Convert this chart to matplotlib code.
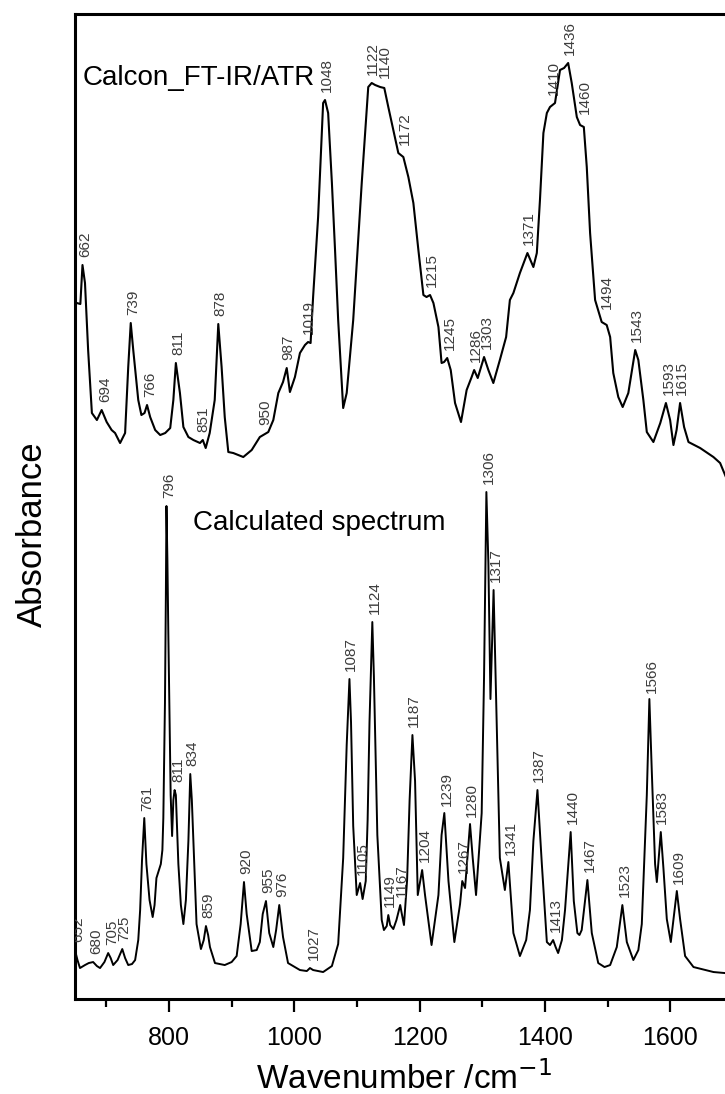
import numpy as np
import matplotlib
matplotlib.use("Agg")
import matplotlib.pyplot as plt
from matplotlib.ticker import MultipleLocator

plt.rcParams['font.family'] = ['Liberation Sans', 'DejaVu Sans']

# experimental FT-IR/ATR trace (wavenumber, absorbance a.u. incl. offset)
exp_wn = [650, 653, 658.6, 662, 666, 671, 677, 685, 692.6, 700.6, 708.5, 714, 722, 730,
          735, 739, 743, 751, 756, 761, 765, 770, 778, 786, 794, 802, 807, 811, 817.5,
          823, 831, 839, 849.5, 854, 858.6, 865, 873, 878.7, 884, 889, 894.7, 902.6,
          918.6, 932, 945, 958.5, 966.5, 974.5, 982, 987.9, 993, 1001, 1009, 1017, 1022,
          1026, 1030, 1038, 1046, 1049, 1054, 1060, 1065, 1070, 1078, 1083.6, 1094,
          1107.6, 1113, 1118, 1123.5, 1129, 1137, 1143.6, 1150, 1158, 1166, 1174, 1182,
          1190, 1198, 1206, 1211, 1216.6, 1222, 1230, 1235, 1239, 1244, 1249.6, 1256.5,
          1266, 1275, 1283, 1287, 1292.7, 1302.8, 1309.7, 1317.6, 1328, 1338, 1344,
          1349.6, 1360, 1372, 1381.5, 1387, 1392, 1397.5, 1403, 1408, 1416, 1424,
          1430.5, 1437, 1442.7, 1450.8, 1456, 1462, 1466.7, 1472, 1480, 1490.5, 1498.5,
          1504, 1509, 1517, 1524, 1533, 1544, 1549, 1557, 1562.5, 1573, 1584, 1593,
          1599.7, 1605, 1610, 1615.6, 1622, 1629, 1647.6, 1668.8, 1679.5, 1687.5, 1700]
exp_abs = [696, 696, 695, 734, 716, 649, 586, 579, 589, 577, 569, 566, 556, 566,
           632, 676, 649, 599, 584, 586, 594, 582, 569, 564, 566, 571, 599, 636, 606,
           572, 562, 559, 556, 559, 551, 566, 599, 675, 632, 582, 547, 546,
           542, 549, 562, 567, 579, 606, 617, 631, 607, 622, 646, 654, 657,
           656, 702, 782, 896, 899, 886, 816, 749, 679, 591, 606, 679,
           816, 866, 912, 916, 914, 912, 911, 892, 869, 846, 842, 822,
           796, 749, 704, 702, 704, 696, 672, 636, 637, 641, 629, 596,
           577, 609, 622, 629, 621, 642, 629, 616, 639, 662, 699,
           706, 726, 746, 732, 746, 799, 866, 886, 892, 896, 929,
           931, 936, 916, 882, 874, 872, 832, 766, 699, 677, 674,
           662, 626, 602, 592, 606, 649, 639, 599, 567, 557, 576, 596,
           579, 554, 569, 596, 572, 557, 551, 542, 536, 524, 504]

# calculated spectrum trace
calc_wn = [650, 654, 658, 666, 672, 679, 685, 690, 697, 703, 707, 711, 718, 725.5, 730,
           735, 741, 746, 751, 754, 757, 760.6, 764, 769, 774, 777, 780, 787, 789.5, 791,
           793.6, 795, 796, 797.5, 799, 801, 802.7, 805, 807, 809, 811, 813, 815, 819,
           823, 827, 831, 834, 836.5, 839, 844, 851, 855.5, 859, 862.5, 865.4, 873.4,
           889, 900, 908, 914.4, 919.7, 924, 932, 940, 945, 949.6, 954.8, 960, 966.5,
           971, 976, 982, 990, 1009, 1020, 1025, 1030, 1046, 1060, 1070, 1078, 1083.6,
           1088, 1090.5, 1094, 1099.6, 1105, 1109, 1114, 1117, 1120, 1124.5, 1127,
           1132.5, 1139.5, 1143, 1147.5, 1150, 1153, 1158, 1163, 1167, 1169, 1171, 1175,
           1180, 1184, 1188.5, 1192.7, 1197, 1204, 1208.6, 1219, 1230, 1235, 1239.4,
           1246, 1255.4, 1264.5, 1268, 1272.5, 1280.4, 1284.7, 1290, 1299, 1302.8,
           1306.5, 1309.7, 1313, 1318, 1322, 1328, 1336, 1341.6, 1349.6, 1360, 1370,
           1376, 1381.5, 1388, 1395, 1403, 1408, 1413, 1417, 1421, 1427, 1432, 1441,
           1446, 1451.7, 1455, 1458.6, 1467.7, 1474.7, 1485, 1495, 1504, 1514.6, 1523.5,
           1530.6, 1541, 1549, 1554.5, 1562.5, 1566.6, 1570.5, 1575.7, 1578.5, 1584.8,
           1589, 1594.4, 1600.8, 1610.4, 1615.6, 1623.6, 1637, 1669, 1687.5, 1700]
calc_abs = [49, 39, 31, 34, 36, 37, 33, 31, 37, 46, 41, 34, 39, 50, 41,
            34, 35, 39, 59, 89, 139, 181, 135, 99, 82, 94, 121, 135, 149, 181,
            296, 399, 493, 439, 365, 279, 204, 163, 199, 209, 204, 169, 135, 94,
            75, 99, 158, 225, 199, 158, 75, 50, 59, 73, 64, 52, 36,
            34, 37, 43, 75, 117, 85, 48, 49, 57, 85, 98, 66, 52,
            69, 94, 62, 36, 29, 28, 31, 29, 27, 33, 55, 141, 254,
            320, 277, 173, 104, 116, 100, 118, 179, 277, 377, 323,
            164, 79, 69, 73, 84, 74, 70, 79, 89, 94, 87, 74,
            119, 199, 264, 218, 104, 129, 104, 54, 104, 164, 186,
            118, 57, 95, 118, 111, 175, 141, 104, 186, 323,
            507, 436, 300, 409, 300, 141, 109, 137, 66, 43, 59,
            89, 158, 209, 135, 57, 54, 59, 52, 46, 59, 89, 167,
            98, 66, 64, 69, 119, 66, 36, 32, 34, 52, 94,
            57, 39, 49, 75, 204, 300, 227, 135, 117, 167,
            131, 80, 57, 108, 80, 43, 32, 27, 26, 25]

exp_peaks = [662, 694, 739, 766, 811, 851, 878, 950, 987, 1019, 1048, 1122, 1140, 1172,
             1215, 1245, 1286, 1303, 1371, 1410, 1436, 1460, 1494, 1543, 1593, 1615]
calc_peaks = [652, 680, 705, 725, 761, 796, 811, 834, 859, 920, 955, 976, 1027, 1087,
              1105, 1124, 1149, 1167, 1187, 1204, 1239, 1267, 1280, 1306, 1317, 1341,
              1387, 1413, 1440, 1467, 1523, 1566, 1583, 1609]

fig = plt.figure(figsize=(7.25, 10.94), dpi=100)
# right edge of the axes runs past the picture, as in the original
ax = fig.add_axes([0.1034, 0.0868, 0.9076, 0.9004])

ax.plot(exp_wn, exp_abs, color='black', lw=1.5)
ax.plot(calc_wn, calc_abs, color='black', lw=1.4)


def label_peaks(wn, ab, peaks):
    # put each number just above the highest point of the curve near it
    grid = np.linspace(650, 1700, 4201)
    curve = np.interp(grid, wn, ab)
    for p in peaks:
        m = (grid >= p - 6) & (grid <= p + 6)
        ax.text(p + 4, curve[m].max() + 8, str(p), rotation=90, ha='center',
                va='bottom', fontsize=11, color='#3c3c3c', clip_on=True)


label_peaks(exp_wn, exp_abs, exp_peaks)
label_peaks(calc_wn, calc_abs, calc_peaks)

ax.text(0.012, 0.935, 'Calcon_FT-IR/ATR', transform=ax.transAxes, fontsize=20,
        ha='left', va='center')
ax.text(0.179, 0.483, 'Calculated spectrum', transform=ax.transAxes, fontsize=20,
        ha='left', va='center')

ax.set_xlim(650, 1700)
ax.set_ylim(0, 985)
ax.xaxis.set_major_locator(MultipleLocator(200))
ax.xaxis.set_minor_locator(MultipleLocator(100))
ax.tick_params(axis='x', which='major', direction='out', length=9.5, width=1.6,
               labelsize=18, pad=10)
ax.tick_params(axis='x', which='minor', direction='out', length=6, width=1.6)
ax.set_yticks([])
for s in ax.spines.values():
    s.set_linewidth(2.2)

ax.set_xlabel('Wavenumber /cm$^{-1}$', fontsize=24, labelpad=8)
ax.set_ylabel('Absorbance', fontsize=25)
ax.yaxis.set_label_coords(-0.04, 0.472)

fig.savefig('out.png', dpi=100)
